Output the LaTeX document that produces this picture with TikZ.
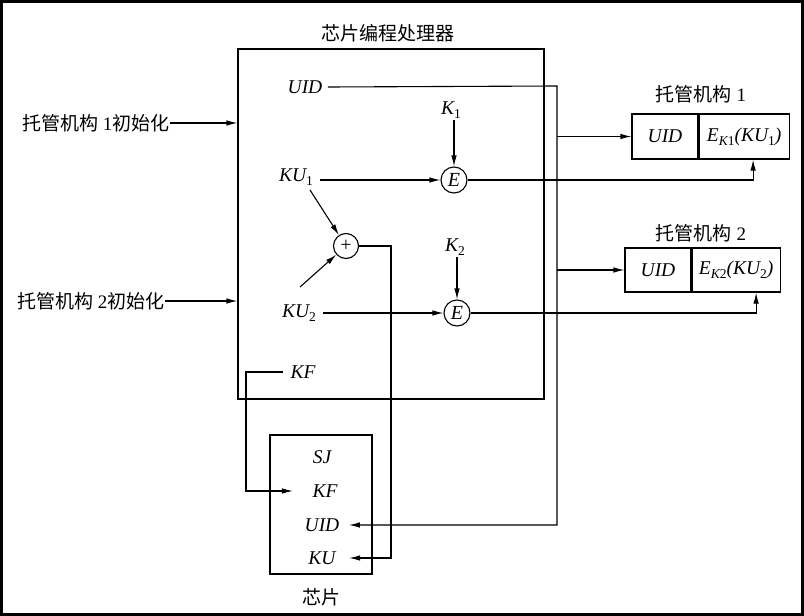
\documentclass[tikz,border=0pt]{standalone}
\usepackage{fontspec}
\setmainfont{Liberation Serif}
\newfontfamily\cjk{Noto Sans CJK SC}
\usetikzlibrary{arrows.meta,calc}
\newcommand{\lowsub}[1]{\raisebox{-0.45ex}{\fontsize{13.5pt}{14pt}\selectfont\upshape #1}}
\begin{document}
\begin{tikzpicture}[x=1pt,y=-1pt,line width=1.1pt,
  >={Latex[length=11pt,width=5.5pt]},
  lab/.style={font=\fontsize{19.5pt}{21pt}\selectfont\itshape,inner sep=1pt},
  cj/.style={font=\fontsize{19pt}{21pt}\selectfont,inner sep=0pt},
  circ/.style={draw,circle,minimum size=26pt,inner sep=0pt,font=\fontsize{20pt}{21pt}\selectfont\itshape},
  pluscirc/.style={draw,circle,minimum size=25pt,inner sep=0pt,font=\fontsize{20pt}{21pt}\selectfont},
  cell/.style={draw,rectangle,inner sep=0pt,font=\fontsize{19.5pt}{21pt}\selectfont\itshape}]
\useasboundingbox (0,0) rectangle (804,616);
\draw[line width=3pt] (1.5,1.5) rectangle (802.5,614.5);

% processor
\node[draw,minimum width=306pt,minimum height=350pt,inner sep=0pt] (proc) at (391,224) {};
\node[cj] (ptitle) at (388,33) {\cjk 芯片编程处理器};

% left inputs
\node[cj,anchor=east] (in1) at (170,123) {{\cjk 托管机构} 1{\cjk 初始化}};
\node[cj,anchor=east] (in2) at (165,301) {{\cjk 托管机构} 2{\cjk 初始化}};
\draw[->] (in1.east) -- (in1.east -| proc.west);
\draw[->] (in2.east) -- (in2.east -| proc.west);

% inner labels
\node[lab] (uid) at (305,87) {UID};
\node[lab] (k1) at (451,110) {K\lowsub{1}};
\node[circ] (e1) at (454,180) {E};
\node[lab] (ku1) at (296,177) {KU\lowsub{1}};
\node[pluscirc] (plus) at (346,246) {+};
\node[lab] (k2) at (455,247) {K\lowsub{2}};
\node[circ] (e2) at (457,313) {E};
\node[lab] (ku2) at (299,313) {KU\lowsub{2}};
\node[lab] (kf) at (303,372) {KF};

% chip
\node[draw,minimum width=102pt,minimum height=139pt,inner sep=0pt] (chip) at (321,504.5) {};
\node[cj] (ctitle) at (321,597) {\cjk 芯片};
\node[lab] (cSJ) at (322,457) {SJ};
\node[lab] (cKF) at (325,491) {KF};
\node[lab] (cUID) at (322,525) {UID};
\node[lab] (cKU) at (322,558) {KU};

% escrow boxes
\node[cj] (t1) at (701,94) {{\cjk 托管机构} 1};
\node[cell,minimum width=66pt,minimum height=45pt] (b1u) at (665,136.5) {UID};
\node[cell,minimum width=90pt,minimum height=45pt,anchor=west] (b1e) at (b1u.east) {E\lowsub{\itshape K\upshape 1}(KU\lowsub{1})};
\node[cj] (t2) at (701,233) {{\cjk 托管机构} 2};
\node[cell,minimum width=66pt,minimum height=44pt] (b2u) at (658,270) {UID};
\node[cell,minimum width=88pt,minimum height=44pt,anchor=west] (b2e) at (b2u.east) {E\lowsub{\itshape K\upshape 2}(KU\lowsub{2})};

% coordinates
\coordinate (bus) at (557,86);
\coordinate (p1s) at (310,190);
\coordinate (p2s) at (300,287);
\coordinate (pk) at (391,246);
\coordinate (kfc) at (246,372);

% connectors
\draw[->] ([xshift=4pt]uid.east) -- (bus) |- ([xshift=8pt]cUID.east);
\draw[->] (b1u.west -| bus) -- (b1u.west);
\draw[->] (b2u.west -| bus) -- (b2u.west);

\draw[->] (k1.south -| e1) -- (e1);
\draw[->] (ku1.east |- e1) ++(6,0) -- (e1);
\draw[->] (e1.east) -| ([xshift=9pt]b1e.south);

\draw[->] (p1s) -- (plus);
\draw[->] (p2s) -- (plus);
\draw[->] (plus.east) -- (pk) |- ([xshift=12pt]cKU.east);

\draw[->] (k2.south -| e2) -- (e2);
\draw[->] (ku2.east |- e2) ++(6,0) -- (e2);
\draw[->] (e2.east) -| ([xshift=20pt]b2e.south);

\draw[->] ([xshift=-6pt]kf.west) -- (kfc) |- ([xshift=-18pt]cKF.west);
\end{tikzpicture}
\end{document}
